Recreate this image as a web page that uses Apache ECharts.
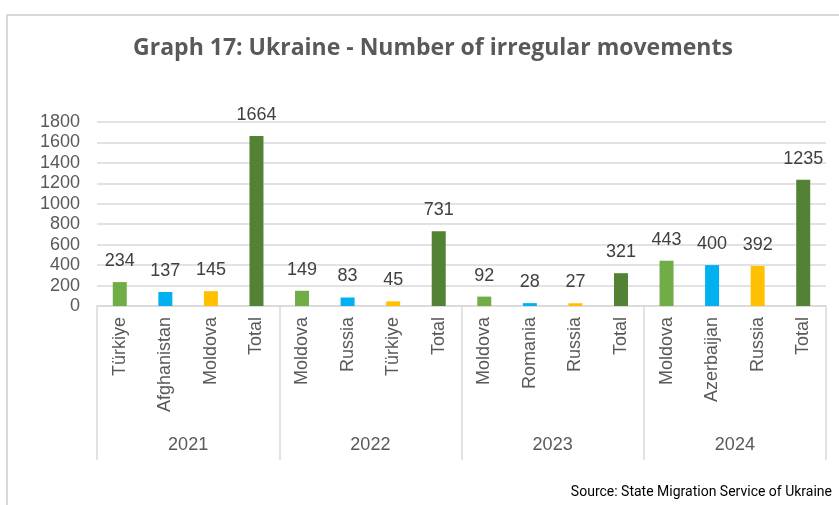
<!DOCTYPE html>
<html><head><meta charset="utf-8">
<script src="https://cdn.jsdelivr.net/npm/echarts@6/dist/echarts.min.js"></script>
<style>html,body{margin:0;padding:0;background:#fff}#c{width:839px;height:505px}</style>
</head><body><div id="c"></div>
<script>
const categories = ["Türkiye","Afghanistan","Moldova","Total","Moldova","Russia","Türkiye","Total","Moldova","Romania","Russia","Total","Moldova","Azerbaijan","Russia","Total"];
const values = [234,137,145,1664,149,83,45,731,92,28,27,321,443,400,392,1235];
const years = ["2021","2022","2023","2024"];
const yTicks = [0,200,400,600,800,1000,1200,1400,1600,1800];
const palette = ["#70AD47","#00B0F0","#FFC000","#548235"];

const chart = echarts.init(document.getElementById('c'));
const font = "'Liberation Sans', Arial, sans-serif";
chart.setOption({
  animation:false,
  title:{text:"Graph 17: Ukraine - Number of irregular movements",left:428,top:32,textAlign:'center',
    textStyle:{fontFamily:"'Open Sans', sans-serif",fontWeight:'bold',fontSize:23,color:'#595959'}},
  graphic:[
    {type:'rect',shape:{x:7,y:15,width:900,height:600},style:{fill:'none',stroke:'#d9d9d9',lineWidth:2}},
    {type:'text',right:7,top:485,style:{text:"Source: State Migration Service of Ukraine",font:"14px Roboto, sans-serif",fill:'#000'}}
  ],
  grid:{left:97,right:13,top:122,bottom:199,containLabel:false},
  xAxis:[
    {type:'category',data:categories,axisLine:{lineStyle:{color:'#d9d9d9',width:1.5}},axisTick:{show:false},
     axisLabel:{rotate:90,margin:11,interval:0,fontFamily:font,fontSize:18,color:'#595959'}},
    {type:'category',data:years,position:'bottom',axisLine:{show:false},
     axisTick:{show:true,length:154,lineStyle:{color:'#d9d9d9',width:1.5}},
     axisLabel:{margin:130,fontFamily:font,fontSize:18,color:'#595959'}}
  ],
  yAxis:{type:'value',min:yTicks[0],max:yTicks[yTicks.length-1],interval:200,
    axisLine:{show:false},axisTick:{show:false},
    splitLine:{lineStyle:{color:'#d9d9d9',width:1.5}},
    axisLabel:{margin:17,fontFamily:font,fontSize:18,color:'#595959',formatter:v=>String(v)}},
  series:[{type:'bar',barWidth:14,xAxisIndex:0,
    data:values.map((v,i)=>({value:v,itemStyle:{color:palette[i%4]}})),
    label:{show:true,position:'top',distance:12,fontFamily:font,fontSize:18,color:'#404040'}}]
});
</script></body></html>
